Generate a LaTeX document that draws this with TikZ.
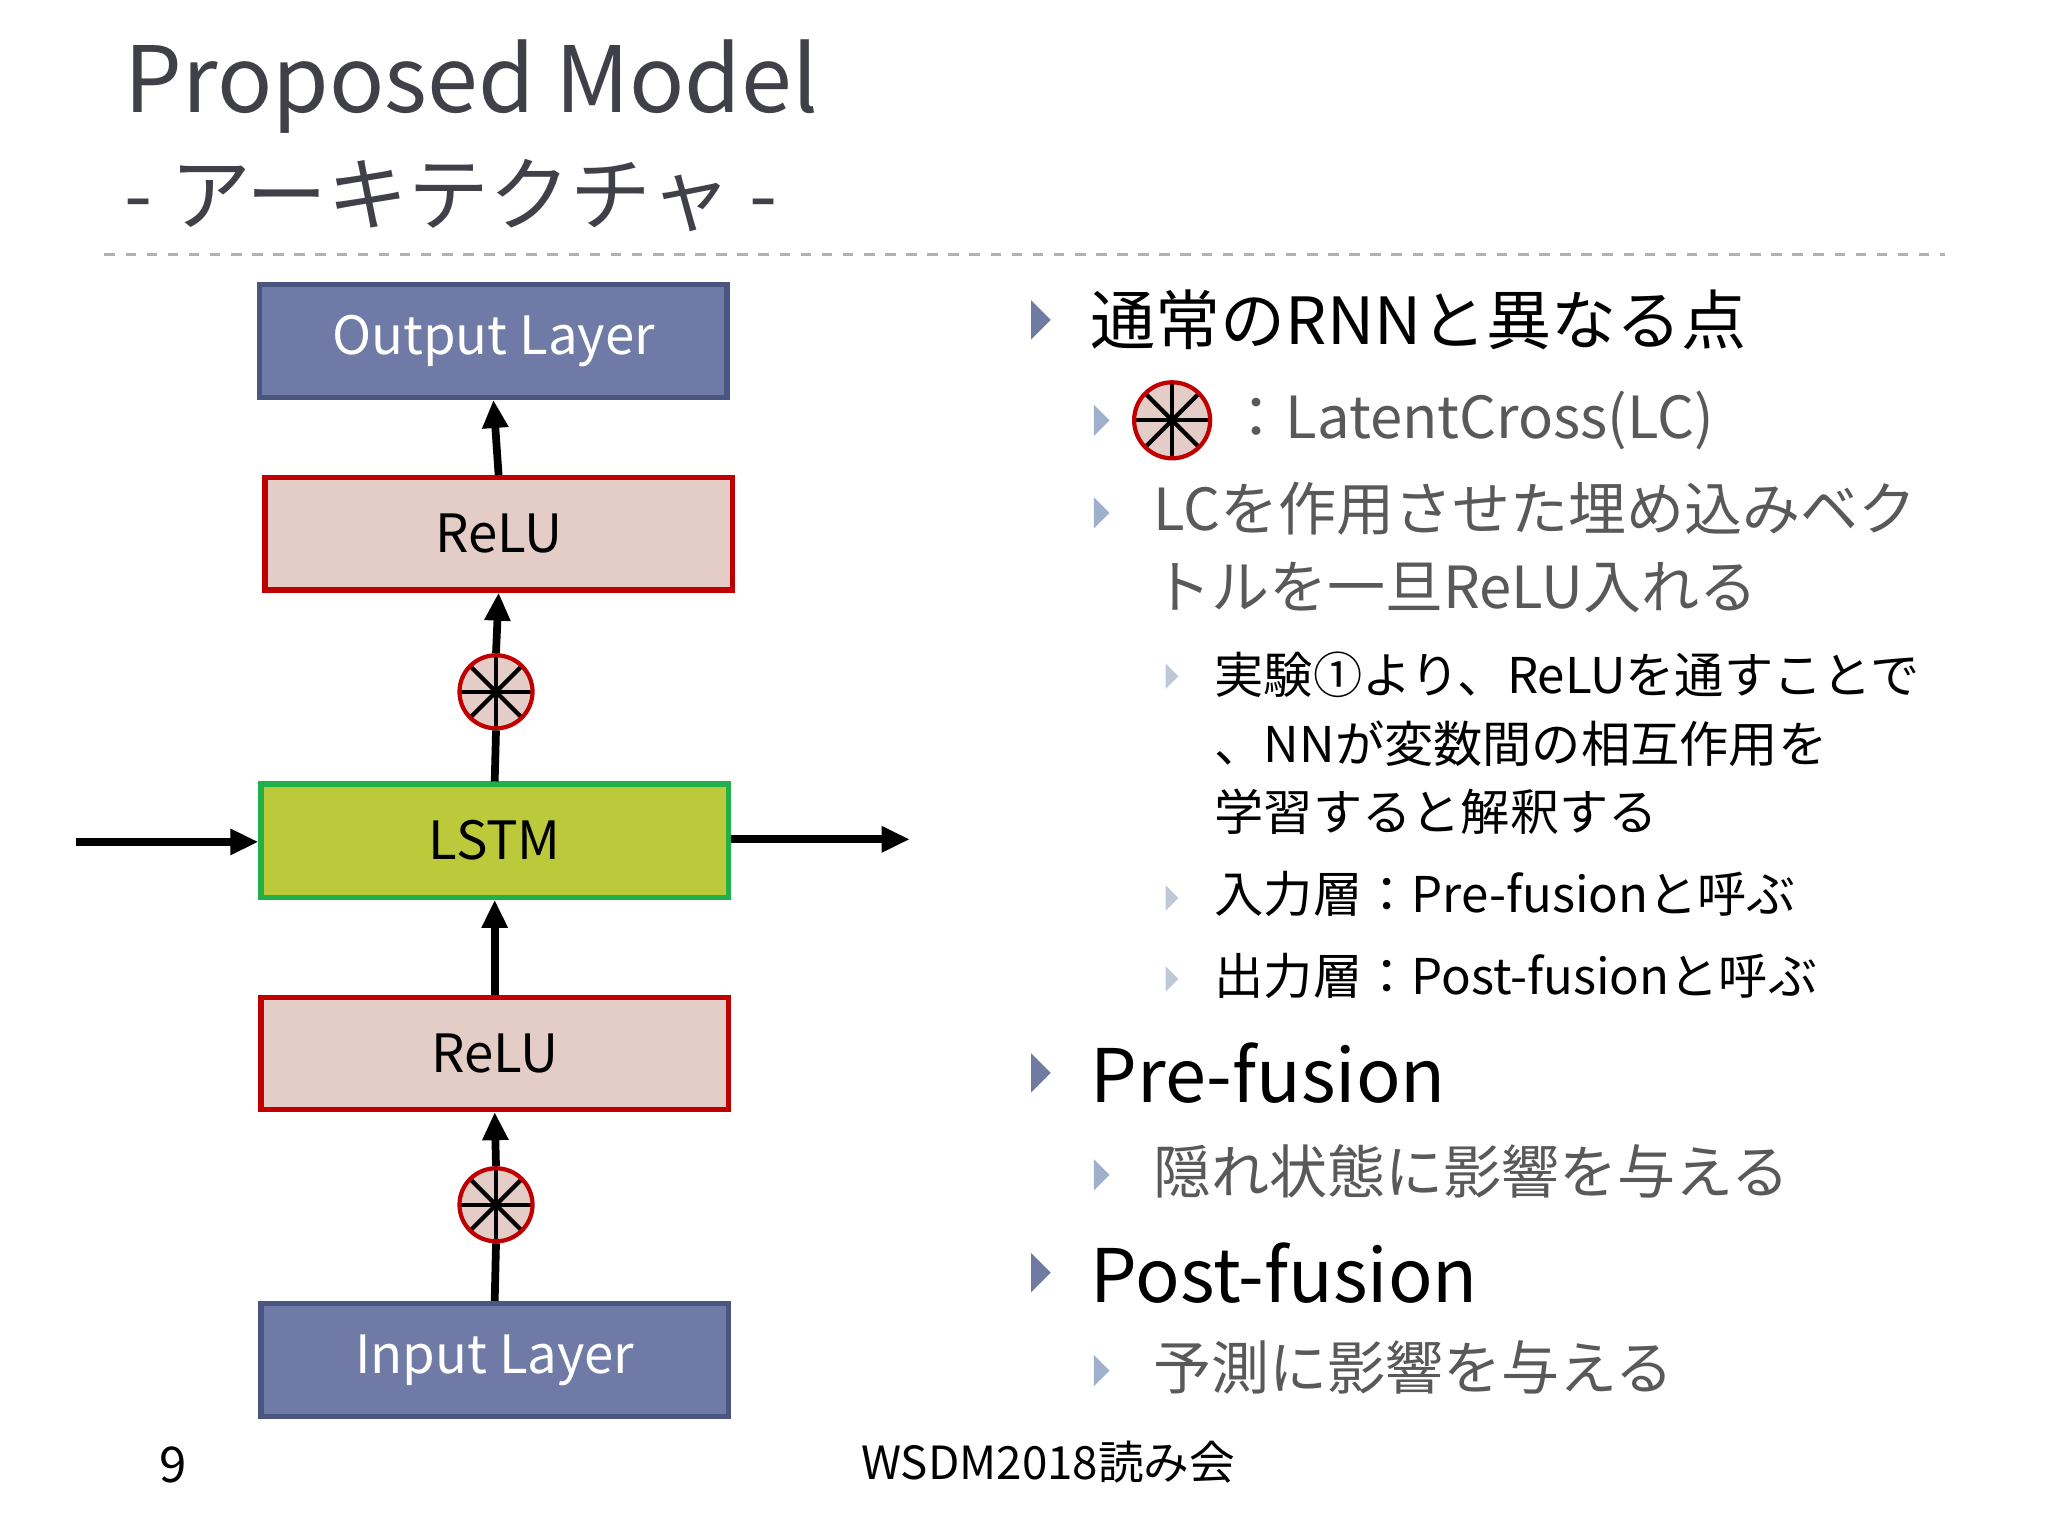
\documentclass[tikz,border=0pt]{standalone}
\usepackage{fontspec}
\setmainfont{Noto Sans CJK JP}
\usetikzlibrary{arrows.meta}
\definecolor{title}{HTML}{404048}
\definecolor{bluebox}{HTML}{6F7BA6}
\definecolor{blueedge}{HTML}{4A5580}
\definecolor{pinkbox}{HTML}{E5CDC7}
\definecolor{rededge}{HTML}{C00000}
\definecolor{lstm}{HTML}{BCC93A}
\definecolor{greenedge}{HTML}{22B04A}
\definecolor{bulA}{HTML}{6F7BA0}
\definecolor{bulB}{HTML}{9FB0CC}
\definecolor{bulC}{HTML}{C0C8D8}
\definecolor{subtxt}{HTML}{595959}
\newcommand{\fsz}[1]{\fontsize{#1}{#1}\selectfont}
\begin{document}
\begin{tikzpicture}[x=0.01305cm,y=-0.01305cm,
  layer/.style={draw=blueedge, fill=bluebox, line width=1.5pt, minimum width=4.67cm, minimum height=1.13cm, text=white, font=\fsz{15pt}},
  relu/.style={draw=rededge, fill=pinkbox, line width=1.5pt, minimum width=4.67cm, minimum height=1.12cm, font=\fsz{15pt}},
  lstm/.style={draw=greenedge, fill=lstm, line width=1.5pt, minimum width=4.67cm, minimum height=1.13cm, font=\fsz{15pt}},
  lc/.style={circle, draw=rededge, fill=pinkbox, line width=1.2pt, minimum size=0.73cm, inner sep=0pt,
    path picture={\foreach \a in {0,45,90,135}{\draw[black,line width=1.2pt] ([shift={(\a:0.37cm)}]path picture bounding box.center) -- ([shift={(\a+180:0.37cm)}]path picture bounding box.center);}}},
  arr/.style={line width=2.2pt, -{Triangle[length=8pt,width=7pt]}},
  tA/.style={anchor=west, inner sep=0pt, font=\fsz{18.5pt}},
  tB/.style={anchor=west, inner sep=0pt, font=\fsz{16.5pt}, text=subtxt},
  tC/.style={anchor=west, inner sep=0pt, font=\fsz{14pt}},
]
\useasboundingbox (0,0) rectangle (1569,1177);
% title
\node[anchor=west, inner sep=0pt, text=title, font=\fsz{26pt}] (t1) at (95,66) {Proposed Model};
\node[anchor=west, inner sep=0pt, text=title, font=\fsz{23pt}] (t2) at (95,150) {- アーキテクチャ -};
\draw[gray!60, dashed, line width=0.6pt] (80,195) -- (1490,195);

% left diagram
\node[layer] (out) at (378,261) {Output Layer};
\node[relu] (r2) at (382,409) {ReLU};
\node[lc] (c2) at (380,530) {};
\node[lstm] (ls) at (379,644) {LSTM};
\node[relu] (r1) at (379,807) {ReLU};
\node[lc] (c1) at (380,923) {};
\node[layer] (in) at (379,1042) {Input Layer};
\coordinate (lin) at (58,645);
\coordinate (rout) at (697,643);
\draw[line width=2.2pt] (in.north) -- (c1.south);
\draw[arr] (c1.north) -- (r1.south);
\draw[arr] (r1.north) -- (ls.south);
\draw[line width=2.2pt] (ls.north) -- (c2.south);
\draw[arr] (c2.north) -- (r2.south);
\draw[arr] (r2.north) -- (out.south);
\draw[arr] (lin) -- (ls.west |- lin);
\draw[arr] (ls.east |- rout) -- (rout);

% bullets
\foreach \x/\y/\c/\s in {790/245/bulA/1, 790/822/bulA/1, 790/975/bulA/1,
  838/322/bulB/0.8, 838/393/bulB/0.8, 838/900/bulB/0.8, 838/1050/bulB/0.8,
  893/518/bulC/0.65, 893/688/bulC/0.65, 893/750/bulC/0.65}
  \fill[\c] (\x,\y-15*\s) -- (\x+15*\s,\y) -- (\x,\y+15*\s) -- cycle;

\node[tA] (a1) at (835,245) {通常のRNNと異なる点};
\node[lc, minimum size=0.76cm] (lcs) at (898,322) {};
\node[tB] (b1) at (940,322) {：LatentCross(LC)};
\node[tB] (b2) at (883,390) {LCを作用させた埋め込みベク};
\node[tB] (b3) at (883,450) {トルを一旦ReLU入れる};
\node[tC] (c1t) at (930,517) {実験①より、ReLUを通すことで};
\node[tC] (c2t) at (930,570) {、NNが変数間の相互作用を};
\node[tC] (c3t) at (930,622) {学習すると解釈する};
\node[tC] (c4t) at (930,685) {入力層：Pre-fusionと呼ぶ};
\node[tC] (c5t) at (930,748) {出力層：Post-fusionと呼ぶ};
\node[tA, font=\fsz{21pt}] (a2) at (835,822) {Pre-fusion};
\node[tB] (b4) at (883,897) {隠れ状態に影響を与える};
\node[tA, font=\fsz{21pt}] (a3) at (835,975) {Post-fusion};
\node[tB] (b5) at (883,1048) {予測に影響を与える};

% footer
\node[font=\fsz{14pt}] (pg) at (133,1122) {9};
\node[font=\fsz{13pt}] (ft) at (803,1120) {WSDM2018読み会};
\end{tikzpicture}
\end{document}
